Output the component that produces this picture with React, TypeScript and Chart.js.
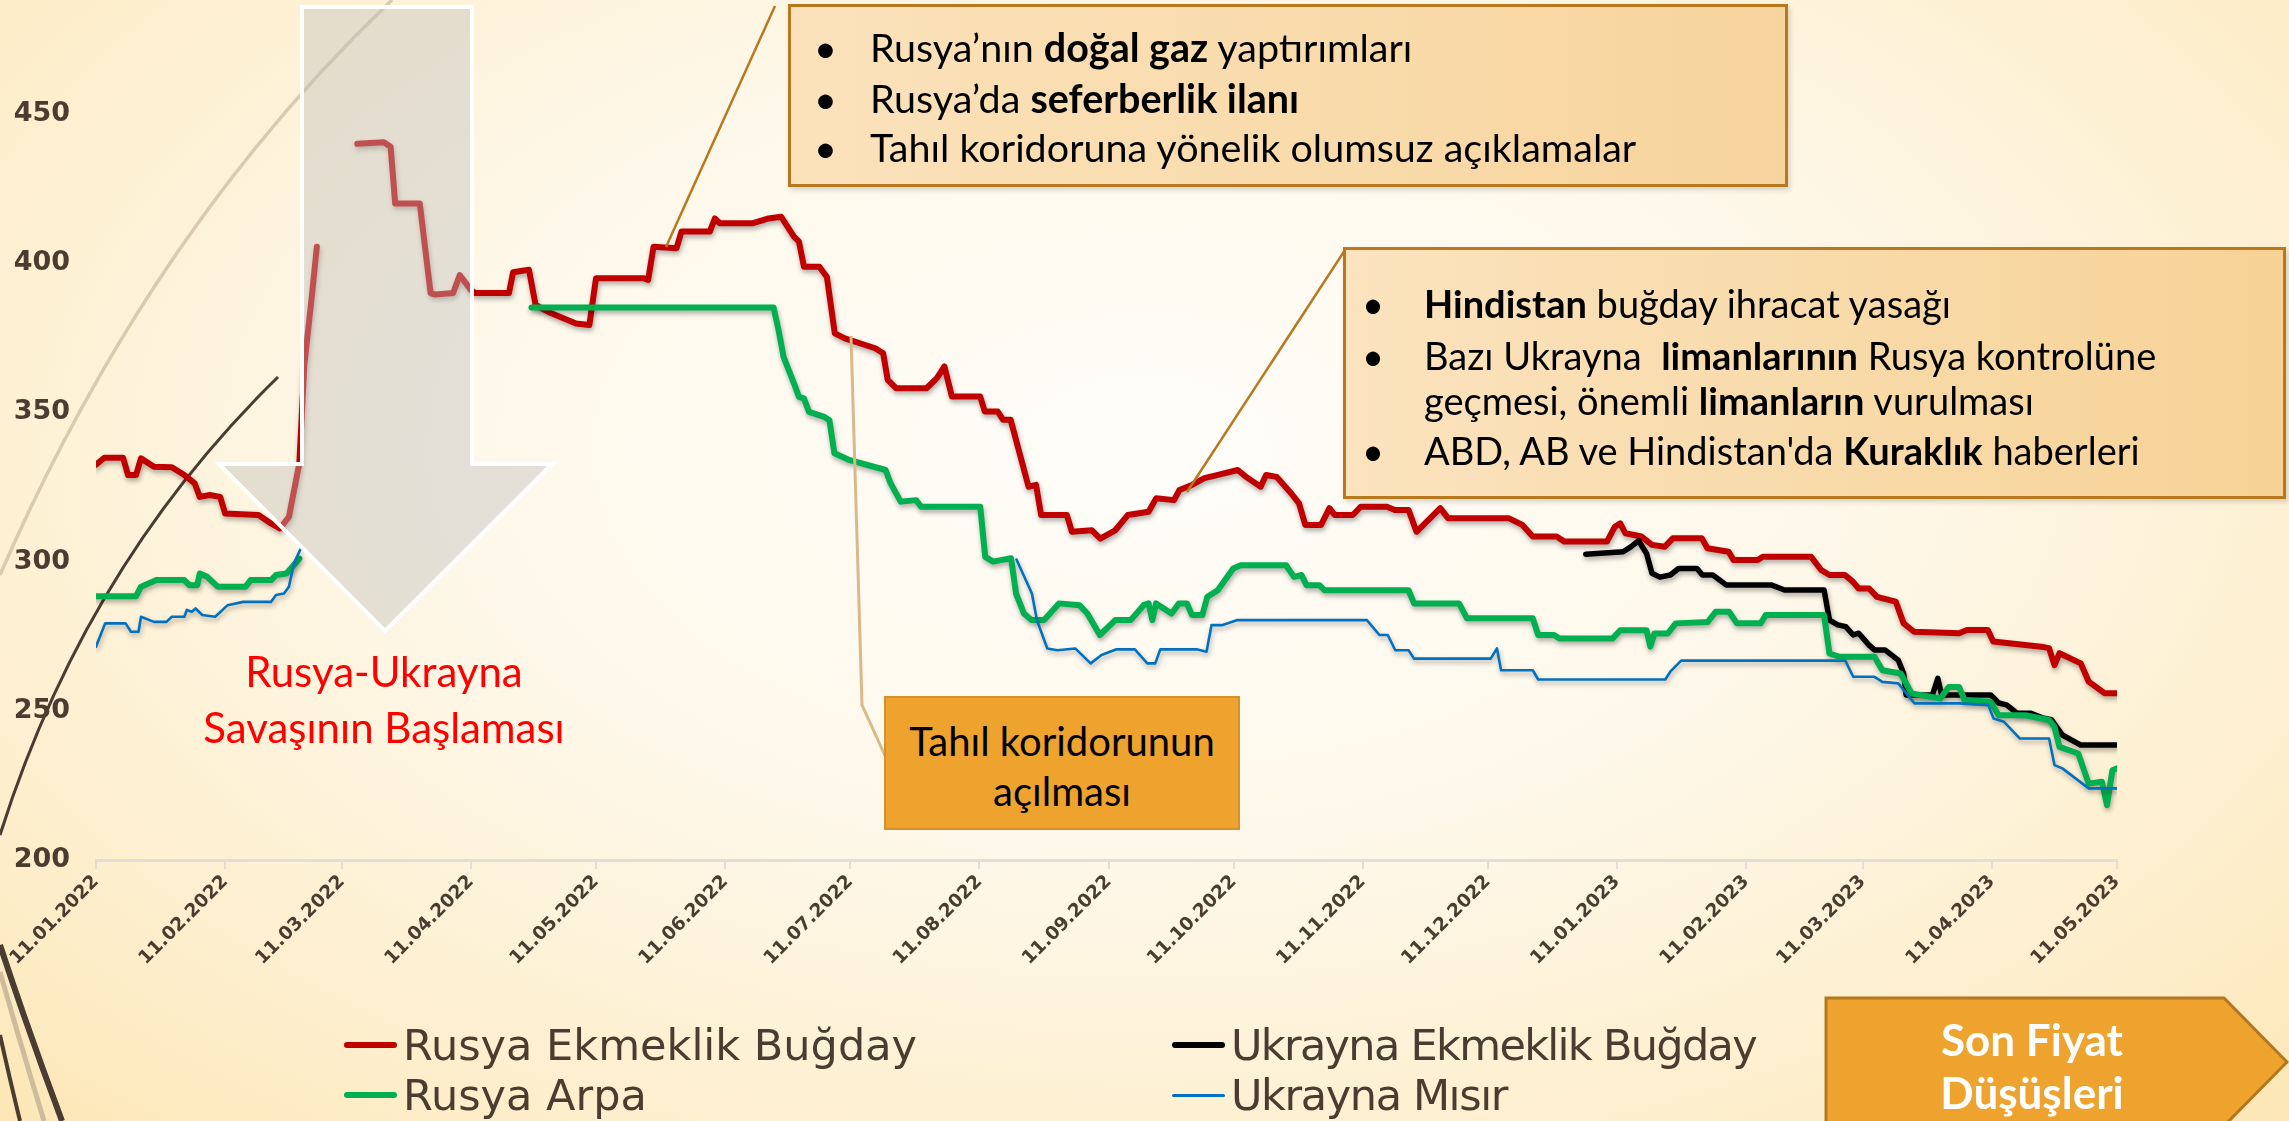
import React, { useEffect, useRef } from 'react';
import { Chart, registerables } from 'chart.js';

Chart.register(...registerables);

const W = 2289;
const H = 1121;

// ---------- Data ----------
const tickLabels = [
  '11.01.2022', '11.02.2022', '11.03.2022', '11.04.2022', '11.05.2022', '11.06.2022',
  '11.07.2022', '11.08.2022', '11.09.2022', '11.10.2022', '11.11.2022', '11.12.2022',
  '11.01.2023', '11.02.2023', '11.03.2023', '11.04.2023', '11.05.2023',
];
const yTickValues = [200, 250, 300, 350, 400, 450];

const seriesNames = ['Rusya Ekmeklik Buğday', 'Ukrayna Ekmeklik Buğday', 'Rusya Arpa', 'Ukrayna Mısır'];
const seriesColors = ['#c00000', '#000000', '#00b050', '#0070c0'];

// day offsets from 11.01.2022 and prices ($/ton); null = no quote
const rusyaBugdayGun = [
  0, 2, 6.5, 7.7, 9.6, 10.8, 13.9, 18.2, 21.2, 23.7, 24.9, 27.3, 29.8, 31, 39, 42, 44.1, 46.3, 48.8, 50, 51.8, 53,
  57, 62.7, 69.1, 70.7, 71.8, 77.7, 80.3, 81.4, 85.7, 87.3, 90, 91, 99.1, 100.1, 103.9, 105.5, 108.7, 115.2, 118.4,
  120, 131.3, 132.5, 133.8, 139.3, 140.5, 147.3, 148.5, 149.7, 157.7, 161.4, 164.4, 167.5, 168.7, 169.9, 173.6,
  175.4, 177.3, 179.7, 187, 188.9, 190, 192, 199.3, 201.8, 203.6, 205.4, 212.2, 213.3, 216.4, 217.7, 219.5, 223.8,
  225.6, 226.8, 233, 234.2, 239, 241, 244.6, 247.6, 252.6, 254.4, 258.7, 260, 263, 266, 269, 274, 276, 279.5, 280.8,
  283.3, 286.8, 288.7, 290.2, 294, 296, 297.3, 301.6, 303.5, 309.8, 311.7, 315, 316.9, 322.6, 324.5, 339.1, 342.3,
  344.8, 350.5, 352.4, 362.6, 364.5, 365.8, 367, 370.9, 373.4, 376.5, 378.4, 385.4, 386.7, 391.8, 393, 398.8, 400,
  411.6, 414, 416, 419.7, 421.6, 423, 425.5, 427.4, 431.9, 433.8, 436.3, 447.1, 449, 454, 455.3, 466.8, 468.7, 470,
  471.2, 476.3, 478.2, 482, 485,
];
const rusyaBugdayFiyat = [
  332.5, 334.8, 334.8, 329, 329, 334.6, 331.8, 331.6, 329, 326.2, 321.7, 322.3, 321.7, 316.1, 315.6, 312.8, 311.1, 315, 333, 366, 389, 405.5,
  null, 440, 440.5, 439, 420, 420, 390, 389.5, 390, 396, 391, 390, 390, 397, 397.8, 386, 383.6, 379.8, 379.3,
  395, 395, 394.4, 405.5, 405, 410.6, 410.6, 415, 413.4, 413.4, 415, 415.6, 408.9, 407.2, 398.8, 398.8,
  395.4, 376.5, 374.8, 371.5, 369.8, 360.9, 358.1, 358.1, 361.5, 365.4, 355.3, 355.3, 350.3, 350.3, 347.5, 347.5, 325.1,
  325.7, 315.6, 315.6, 310, 310.5, 307.7, 310.5, 315.6, 316.7, 321.2, 320.6, 324, 325.7, 328, 329, 330.7, 328.4, 325.1, 329,
  328.4, 322.9, 319.5, 312.3, 312.3, 317.9, 315.6, 315.6, 318.4, 318.4, 317.3, 317.3, 310, 317.9, 314.5, 314.5, 312.3,
  308.4, 308.4, 306.7, 306.7, 311.7, 312.8, 309.5, 308.4, 305.6, 305, 307.8, 307.8, 304.5, 303.3, 300.5, 300.5, 301.6,
  301.6, 297.2, 295.5, 295.5, 293.3, 291, 291, 288.2, 286.6, 279.3, 276.5, 276, 277.1, 277.1, 273.2, 271.5, 271, 265.3,
  269.3, 265.9, 259.8, 255.9, 255.9,
];

const ukraynaBugdayGun = [
  357.5, 366.5, 368.4, 370.2, 372.1, 373.4, 375.3, 377.8, 379.8, 384.2, 385.5, 388, 391.2, 402, 405.2, 414.7, 416,
  418, 419.9, 421.7, 423, 425.5, 426.8, 429.3, 432.5, 433.8, 434.4, 440.7, 442, 442.9, 454.7, 456.6, 458.5, 461,
  464.2, 467.4, 469.3, 471.9, 476.3, 485,
];
const ukraynaBugdayFiyat = [
  302.5, 303.3, 305, 307, 302.7, 296.1, 294.8, 295.5, 297.7, 297.7, 295.5, 295.5, 292.2, 292.2, 290.5, 290.5, 280.4,
  278.8, 278.2, 275.4, 276, 272, 270.4, 270.4, 267, 262.5, 255.3, 255.3, 260.9, 255.3, 255.3, 252.6, 252, 249.2,
  249.2, 247.5, 247, 241.9, 238.5, 238.5,
];

const rusyaArpaGun = [
  0, 9.6, 10.8, 14.5, 21.2, 22.4, 24.3, 24.9, 26.7, 29.2, 35.9, 37.1, 42, 43.2, 45.7, 48.8,
  70, 104.5, 162.6, 163.8, 165, 167.5, 168.7, 169.9, 171.1, 174.8, 176, 177.2, 180.9, 189.5, 190.7, 193.1, 196.8,
  198, 212.2, 213.4, 215.3, 219.6, 220.8, 222.7, 224.5, 227.5, 231.1, 236, 237.9, 240.9, 244.6, 248.3, 251.4, 252.6,
  253.5, 254.4, 258.1, 259.9, 261.8, 263, 265.5, 266.7, 269.2, 272.9, 274.7, 285.6, 287.5, 289.3, 290.5, 293.6,
  294.8, 315, 316.3, 327.1, 329, 344.8, 346.1, 349.9, 351.2, 363.9, 365.8, 372.1, 373, 374, 377.2, 379.1, 386.8,
  388.7, 391.9, 393.8, 399.5, 400.7, 414.7, 416, 418.5, 426.8, 428.7, 433.1, 435.7, 442.6, 444.6, 447.1, 448.4,
  454.7, 456.6, 463, 468.7, 470, 471.2, 475.7, 478.2, 481.4, 482.6, 483.9, 485,
];
const rusyaArpaFiyat = [
  288.4, 288.4, 291.6, 293.8, 293.8, 292.1, 292.1, 296, 294.9, 291.6, 291.6, 293.8, 293.8, 295.5, 296, 301,
  null, 385.2, 385.2, 377.6, 368.6, 359.7, 355.2, 354.7, 350.2, 348.5, 347.4, 336.3, 334, 330.7, 326.2, 320.1, 320.6,
  318.4, 318.4, 301.6, 300, 301.1, 289.3, 282.6, 280.4, 280.4, 286, 285.4, 282.6, 275.4, 280.4, 280.4, 285.4, 286,
  280.4, 286, 282.6, 286, 286, 282.1, 282.1, 288.2, 290.4, 297.7, 298.8, 298.8, 294.9, 295.5, 292.1, 292.1,
  290.4, 290.4, 286, 286, 281, 281, 275.4, 275.4, 274.2, 274.2, 277, 277, 271.5, 275.9, 275.9, 279.3, 279.8,
  283.2, 283.2, 279.3, 279.3, 282.1, 282.1, 269.2, 268.1, 268.1, 263.6, 262.5, 255.8, 254.1, 258, 258, 253.6,
  253, 248.5, 248.5, 246.9, 244.6, 237.9, 235.7, 225.6, 226.2, 218.4, 230.1, 230.7,
];

const ukraynaMisirGun = [
  0, 2.2, 7.1, 8.4, 10.2, 10.8, 13.9, 16.9, 18.2, 21.2, 21.8, 23, 23.9, 25.5, 28.6, 31.6, 35.3, 42, 43.2, 45.1,
  46.3, 47.5, 49, 100, 220.9, 224.6, 225.8, 228.3, 230.7, 235, 238.7, 241.3, 244.9, 249.3, 252.3, 254.2, 255.4,
  264.1, 266.5, 267.7, 270.2, 273.9, 305, 308, 310, 311.8, 315, 316.3, 334.7, 336.2, 337.2, 344.8, 346.1, 376.6,
  377.8, 380.4, 419.8, 421.7, 426.8, 428.7, 432.5, 436.4, 447.1, 454.1, 455.4, 457.9, 461.7, 468.7, 470, 471.9,
  478.2, 485,
];
const ukraynaMisirFiyat = [
  271.5, 279.3, 279.3, 276.5, 276.5, 281.5, 279.8, 279.8, 281.5, 281.5, 283.8, 283.2, 284.3, 282.1, 281.5, 285.4, 286.5, 286.5, 288.8, 289.3,
  291.6, 299.4, 304, null, 300.7, 289.3, 280.4, 270.9, 270.3, 270.9, 265.9, 268.7, 270.6, 270.6, 265.9, 265.9, 270.6,
  270.6, 269.8, 278.7, 278.7, 280.4, 280.4, 275.4, 275.4, 270.3, 270.3, 267.5, 267.5, 270.9, 263.6, 263.6, 260.5, 260.5,
  263.1, 266.8, 266.8, 261.4, 261.4, 259.7, 259.2, 252.5, 252.5, 251.9, 247.4, 246.3, 240.7, 240.7, 231.8, 230.7,
  224, 224,
];

// ---------- helpers ----------
const dayOf = (s: string) => {
  const [d, m, y] = s.split('.').map(Number);
  return Math.round((Date.UTC(y, m - 1, d) - Date.UTC(2022, 0, 11)) / 86400000);
};
const tickDays = tickLabels.map(dayOf);
const toPoints = (days: number[], vals: (number | null)[]) => days.map((d, i) => ({ x: d, y: vals[i] }));

const TEXT_BROWN = '#4b3c30';

const shadowPlugin = {
  id: 'lineShadow',
  beforeDatasetDraw(chart: any) {
    const c = chart.ctx;
    c.save();
    c.shadowColor = 'rgba(0,0,0,0.32)';
    c.shadowBlur = 5;
    c.shadowOffsetX = 1;
    c.shadowOffsetY = 3;
  },
  afterDatasetDraw(chart: any) {
    chart.ctx.restore();
  },
};

const calloutFont = 'Lato, "Open Sans", "DejaVu Sans", sans-serif';

function Line({ x, y, bullet, size = 38, children }: any) {
  return (
    <>
      {bullet !== undefined && (
        <div style={{ position: 'absolute', left: bullet - 8, top: y - 24, height: 48, lineHeight: '48px', fontSize: size, fontFamily: calloutFont, color: '#000' }}>•</div>
      )}
      <div style={{ position: 'absolute', left: x, top: y - 24, height: 48, lineHeight: '48px', fontSize: size, fontFamily: calloutFont, color: '#000', whiteSpace: 'pre' }}>
        {children}
      </div>
    </>
  );
}

export default function App() {
  const canvasRef = useRef<HTMLCanvasElement>(null);

  useEffect(() => {
    document.body.style.margin = '0';
    document.body.style.overflow = 'hidden';
    const canvas = canvasRef.current;
    if (!canvas) return;
    const seriesDays = [rusyaBugdayGun, ukraynaBugdayGun, rusyaArpaGun, ukraynaMisirGun];
    const seriesVals = [rusyaBugdayFiyat, ukraynaBugdayFiyat, rusyaArpaFiyat, ukraynaMisirFiyat];
    const widths = [6, 5.5, 6, 2.6];
    const orders = [4, 3, 2, 1];
    const chart = new Chart(canvas, {
      type: 'line',
      data: {
        datasets: seriesNames.map((name, i) => ({
          label: name,
          data: toPoints(seriesDays[i], seriesVals[i]),
          borderColor: seriesColors[i],
          backgroundColor: seriesColors[i],
          borderWidth: widths[i],
          order: orders[i],
          pointRadius: 0,
          tension: 0,
          spanGaps: false,
          borderJoinStyle: 'round',
          borderCapStyle: 'round',
          fill: false,
        })),
      },
      options: {
        responsive: false,
        animation: false,
        devicePixelRatio: 1,
        layout: { padding: { top: 24.5, right: 172, left: 0, bottom: 0 } },
        plugins: { legend: { display: false }, tooltip: { enabled: false } },
        scales: {
          x: {
            type: 'linear',
            min: 0,
            max: 485,
            afterBuildTicks: (s: any) => {
              s.ticks = tickDays.map((v) => ({ value: v }));
            },
            afterFit: (s: any) => {
              s.height = H - 860;
            },
            ticks: {
              autoSkip: false,
              maxRotation: 45,
              minRotation: 45,
              padding: 2,
              color: TEXT_BROWN,
              font: { family: '"DejaVu Sans", sans-serif', weight: 'bold', size: 18.5 },
              callback: (_v: any, i: number) => tickLabels[i],
            },
            grid: { drawOnChartArea: false, drawTicks: true, tickLength: 9, color: '#e2ddd7', lineWidth: 2 },
            border: { display: true, color: '#e2ddd7', width: 3 },
          },
          y: {
            min: 200,
            max: 480,
            afterBuildTicks: (s: any) => {
              s.ticks = yTickValues.map((v) => ({ value: v }));
            },
            afterFit: (s: any) => {
              s.width = 96;
              s.paddingTop = 0;
              s.paddingBottom = 0;
            },
            ticks: {
              padding: 26,
              color: TEXT_BROWN,
              font: { family: '"DejaVu Sans", sans-serif', weight: 'bold', size: 27 },
            },
            grid: { display: false, drawTicks: false },
            border: { display: false },
          },
        },
      },
      plugins: [shadowPlugin],
    } as any);
    return () => chart.destroy();
  }, []);

  const legendItem = (x: number, y: number, color: string, thick: number, text: string, spacing: number) => (
    <>
      <div style={{ position: 'absolute', left: x, top: y - thick / 2, width: 53, height: thick, borderRadius: thick / 2, background: color }} />
      <div style={{ position: 'absolute', left: x + 59, top: y - 22, height: 44, lineHeight: '44px', fontSize: 43, letterSpacing: spacing, fontFamily: '"DejaVu Sans", sans-serif', color: TEXT_BROWN, whiteSpace: 'pre' }}>
        {text}
      </div>
    </>
  );

  return (
    <div
      style={{
        position: 'relative',
        width: W,
        height: H,
        overflow: 'hidden',
        background:
          'radial-gradient(ellipse 72% 85% at 50% 40%, #fffdf9 0%, #fef8ea 42%, #fdedc9 82%, #fce6b4 100%)',
      }}
    >
      {/* background decorations */}
      <svg width={W} height={H} style={{ position: 'absolute', left: 0, top: 0 }}>
        <path d="M 392 0 Q 150 230 0 575" stroke="#d8cbb0" strokeWidth={3.5} fill="none" />
        <path d="M 278 377 Q 85 565 0 835" stroke="#4a3c31" strokeWidth={3} fill="none" />
        <path d="M 0 945 Q 28 1030 62 1121" stroke="#4a3c31" strokeWidth={6} fill="none" />
        <path d="M 0 972 Q 20 1042 44 1121" stroke="#cdbb9b" strokeWidth={5} fill="none" />
        <path d="M 0 1035 Q 10 1080 20 1121" stroke="#4a3c31" strokeWidth={4} fill="none" />
      </svg>

      <canvas ref={canvasRef} width={W} height={H} style={{ position: 'absolute', left: 0, top: 0 }} />

      {/* overlay shapes */}
      <svg width={W} height={H} style={{ position: 'absolute', left: 0, top: 0 }}>
        <polygon
          points="302,7 472,7 472,464 552,464 385,631 219,464 302,464"
          fill="rgba(192,190,188,0.42)"
          stroke="#ffffff"
          strokeWidth={4}
        />
        <line x1={775} y1={6} x2={666} y2={247} stroke="#b8781e" strokeWidth={2.5} />
        <line x1={1345} y1={250} x2={1187} y2={492} stroke="#b8781e" strokeWidth={2.5} />
        <polyline points="851,336 862,705 887,760" stroke="#d9b98a" strokeWidth={3} fill="none" />
        <polygon points="1826,998 2224,998 2287,1062 2224,1126 1826,1126" fill="#eea32f" stroke="#b5761d" strokeWidth={3} />
      </svg>

      {/* war start label */}
      <div style={{ position: 'absolute', left: 184, width: 400, top: 643, textAlign: 'center', color: '#ff0000', fontSize: 42, lineHeight: '56px', fontFamily: calloutFont }}>
        Rusya-Ukrayna
        <br />
        Savaşının Başlaması
      </div>

      {/* callout 1 */}
      <div
        style={{
          position: 'absolute', left: 788, top: 4, width: 1000, height: 183, boxSizing: 'border-box',
          border: '3px solid #b8781e', background: 'linear-gradient(90deg, #fbe2bb 0%, #f7d49d 100%)',
          boxShadow: '2px 3px 5px rgba(0,0,0,0.15)',
        }}
      />
      <Line x={870} y={47} bullet={822} size={39.5}>Rusya’nın <b>doğal gaz</b> yaptırımları</Line>
      <Line x={870} y={98} bullet={822} size={39.5}>Rusya’da <b>seferberlik ilanı</b></Line>
      <Line x={870} y={147} bullet={822} size={39.5}>Tahıl koridoruna yönelik olumsuz açıklamalar</Line>

      {/* callout 2 */}
      <div
        style={{
          position: 'absolute', left: 1343, top: 247, width: 943, height: 252, boxSizing: 'border-box',
          border: '3px solid #b8781e', background: 'linear-gradient(90deg, #fbe3be 0%, #f6d296 100%)',
          boxShadow: '2px 3px 5px rgba(0,0,0,0.15)',
        }}
      />
      <Line x={1424} y={303} bullet={1370}><b>Hindistan</b> buğday ihracat yasağı</Line>
      <Line x={1424} y={355} bullet={1370}>Bazı Ukrayna  <b>limanlarının</b> Rusya kontrolüne</Line>
      <Line x={1424} y={400}>geçmesi, önemli <b>limanların</b> vurulması</Line>
      <Line x={1424} y={450} bullet={1370}>ABD, AB ve Hindistan'da <b>Kuraklık</b> haberleri</Line>

      {/* callout 3 */}
      <div
        style={{
          position: 'absolute', left: 884, top: 696, width: 356, height: 134, boxSizing: 'border-box',
          border: '2px solid #d6922a', background: '#eea32f', textAlign: 'center',
          fontFamily: calloutFont, fontSize: 40, lineHeight: '50px', color: '#000', paddingTop: 18,
        }}
      >
        Tahıl koridorunun
        <br />
        açılması
      </div>

      {/* son fiyat */}
      <div style={{ position: 'absolute', left: 1832, width: 400, top: 1013, textAlign: 'center', color: '#ffffff', fontWeight: 'bold', fontSize: 44, lineHeight: '53px', fontFamily: calloutFont }}>
        Son Fiyat
        <br />
        Düşüşleri
      </div>

      {/* legend */}
      {legendItem(344, 1045, seriesColors[0], 6, seriesNames[0], 0)}
      {legendItem(1172, 1045, seriesColors[1], 6, seriesNames[1], -1.7)}
      {legendItem(344, 1095, seriesColors[2], 6, seriesNames[2], 0)}
      {legendItem(1172, 1095, seriesColors[3], 3, seriesNames[3], -1.4)}
    </div>
  );
}
